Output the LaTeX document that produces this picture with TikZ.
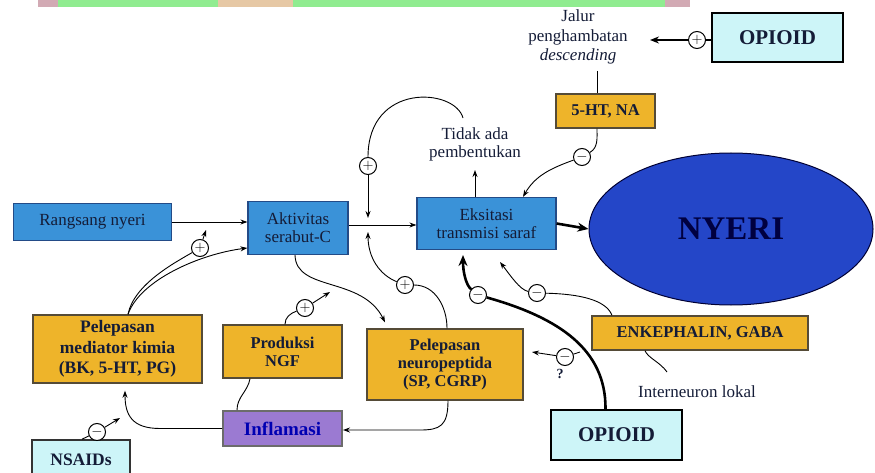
\documentclass[tikz,border=0pt]{standalone}
\usepackage{fontspec}
\setmainfont{Liberation Serif}
\usetikzlibrary{arrows.meta,shapes.geometric}
\definecolor{bluebox}{RGB}{58,146,216}
\definecolor{blueedge}{RGB}{35,75,135}
\definecolor{orangebox}{RGB}{238,180,42}
\definecolor{orangeedge}{RGB}{85,75,55}
\definecolor{cyanbox}{RGB}{205,245,248}
\definecolor{purplebox}{RGB}{155,122,210}
\definecolor{nyeriblue}{RGB}{36,70,200}
\definecolor{wmgreen}{RGB}{144,236,144}
\definecolor{wmbeige}{RGB}{230,200,165}
\definecolor{wmpink}{RGB}{210,170,180}
\definecolor{boxtext}{RGB}{20,28,55}
\tikzset{
  bbox/.style={draw=blueedge,line width=1.2pt,fill=bluebox,text=boxtext,align=center,
    font=\fontsize{17}{18}\selectfont,inner sep=0pt},
  obox/.style={draw=orangeedge,line width=1.4pt,fill=orangebox,text=boxtext,align=center,
    font=\fontsize{16.5}{18}\selectfont\bfseries,inner sep=0pt},
  cbox/.style={draw=black,line width=2pt,fill=cyanbox,text=boxtext,inner sep=0pt,
    font=\fontsize{21}{24}\selectfont\bfseries},
  pm/.style={circle,draw,fill=white,line width=1pt,minimum size=17pt,inner sep=0pt,
    font=\fontsize{15}{15}\selectfont},
  conn/.style={line width=0.9pt,-{Stealth[length=7pt,width=5pt]}},
  plain/.style={line width=0.9pt},
  thickconn/.style={line width=2.6pt,-{Stealth[length=11pt,width=9pt]}},
  lbl/.style={align=center,text=boxtext,font=\fontsize{17}{19.5}\selectfont},
}
\begin{document}
\begin{tikzpicture}[x=1pt,y=-1pt]
\useasboundingbox (0,0) rectangle (875,473);
% watermark strip
\fill[wmpink] (38,0) rectangle (58,7);
\fill[wmgreen] (58,0) rectangle (665,7);
\fill[wmbeige] (218,0) rectangle (293,7);
\fill[wmpink] (665,0) rectangle (690,7);

% nodes
\node[bbox,minimum width=158,minimum height=37] (rang) at (92.5,222) {Rangsang nyeri};
\node[bbox,minimum width=100,minimum height=53] (akt) at (298,228) {Aktivitas\\serabut-C};
\node[bbox,minimum width=139,minimum height=52] (eks) at (486.5,223.5) {Eksitasi\\transmisi saraf};
\node[ellipse,draw=black!80!blue,line width=1pt,fill=nyeriblue,minimum width=284,minimum height=152,
  text=black!75!blue,font=\fontsize{33}{36}\selectfont\bfseries] (nyeri) at (731,229) {NYERI};
\node[cbox,minimum width=131,minimum height=49] (opt) at (777.5,37.5) {OPIOID};
\node[lbl] (jalur) at (578,37) {Jalur\\penghambatan\\\textit{descending}};
\node[obox,minimum width=99,minimum height=34] (ht) at (605.5,111) {5-HT, NA};
\node[lbl,font=\fontsize{17}{18}\selectfont] (tidak) at (475,144) {Tidak ada\\pembentukan};
\node[obox,minimum width=169,minimum height=68,font=\fontsize{17.5}{20.5}\selectfont\bfseries] (med) at (117.5,349) {Pelepasan\\mediator kimia\\(BK, 5-HT, PG)};
\node[obox,minimum width=119,minimum height=53] (ngf) at (282.5,351.5) {Produksi\\NGF};
\node[obox,minimum width=156,minimum height=71] (neu) at (445,364.5) {Pelepasan\\neuropeptida\\(SP, CGRP)};
\node[draw=gray!85!black,line width=2pt,fill=purplebox,minimum width=119,minimum height=35,inner sep=0pt,
  text=blue!70!black,font=\fontsize{19}{22}\selectfont\bfseries] (inf) at (282.5,428.5) {Inflamasi};
\node[draw=black!80,line width=1.6pt,fill=cyanbox,minimum width=98,minimum height=40,inner sep=0pt,
  text=boxtext,font=\fontsize{17.5}{20}\selectfont\bfseries] (nsa) at (81,460) {NSAIDs};
\node[obox,minimum width=216,minimum height=34] (enk) at (700,333) {ENKEPHALIN, GABA};
\node[lbl] (inter) at (697,392) {Interneuron lokal};
\node[cbox,minimum width=131,minimum height=50] (opb) at (616.5,435) {OPIOID};
\node[text=boxtext,font=\fontsize{14}{14}\selectfont\bfseries] (q) at (560,374) {?};

% circles
\node[pm] (c1) at (697,40) {$+$};
\node[pm] (c2) at (582,157) {$-$};
\node[pm] (c3) at (368,166) {$+$};
\node[pm] (c4) at (405,285) {$+$};
\node[pm] (c5) at (200,248) {$+$};
\node[pm] (c6) at (305,308) {$+$};
\node[pm] (c7) at (97,432) {$-$};
\node[pm] (c8) at (478,295) {$-$};
\node[pm] (c9) at (565,357) {$-$};
\node[pm] (c10) at (537,293) {$-$};

% free ends
\coordinate (jtip) at (650,40);
\coordinate (jl) at (597,71);
\coordinate (ls) at (463,118);
\coordinate (a1) at (368,218);
\coordinate (a2) at (368,232);
\coordinate (a3) at (206,230);
\coordinate (a4) at (330,292);
\coordinate (a5) at (120,418);
\coordinate (a6) at (500,262);
\coordinate (a7) at (463,255);
\coordinate (a8) at (532,352);
\coordinate (ib) at (667,372);
\coordinate (ttip) at (475,170);
\coordinate (thb) at (580,352);

% connectors
\draw[line width=1.8pt] (opt.west |- c1) -- (c1);
\draw[line width=1.8pt,-{Stealth[length=9pt,width=7pt]}] (c1) -- (jtip);
\draw[plain] (jl) -- (jl |- ht.north);
\draw[plain] ([shift={(-8.5,0)}]ht.south) to[out=-90,in=30] (c2);
\draw[conn] (c2) to[out=200,in=60] ([shift={(36.5,0)}]eks.north);
\draw[conn] (rang.east) -- (rang.east -| akt.west);
\draw[conn] ([shift={(0,-3)}]akt.east) -- ([shift={(0,-3)}]akt.east -| eks.west);
\draw[conn] (ttip |- eks.north) -- (ttip);
\draw[thickconn] (eks.east) -- (nyeri.west);
% loop over top
\draw[plain] (ls) .. controls (455,88) and (368,82) .. (c3);
\draw[conn] (c3) -- (a1);
% loop from neuropeptida
\draw[plain] (c4) to[out=0,in=90] ([shift={(2,0)}]neu.north);
\draw[conn] (c4) .. controls (380,275) and (368,258) .. (a2);
% aktivitas to neuropeptida
\draw[conn] ([shift={(-3,0)}]akt.south) .. controls (296,292) and (362,276) .. ([shift={(-60,-6)}]neu.north);
% mediator to aktivitas
\draw[plain] ([shift={(10.5,0)}]med.north) .. controls (134,284) and (176,262) .. (c5);
\draw[conn] ([shift={(10.5,0)}]med.north) .. controls (140,280) and (200,254) .. (akt.west |- 0,248);
\draw[conn] (c5) -- (a3);
% NGF
\draw[plain] ([shift={(2.5,0)}]ngf.north) to[out=90,in=200] (c6);
\draw[conn] (c6) -- (a4);
\draw[plain] ([shift={(-45.5,0)}]inf.north) to[out=90,in=-100] ([shift={(-32.5,0)}]ngf.south);
% inflamasi to mediator
\draw[conn] (inf.west) -- (160,428.5) .. controls (132,428.5) and (125,415) .. ([shift={(7.5,7)}]med.south);
% NSAIDs
\draw[plain] (nsa.north -| 82,0) -- (c7);
\draw[conn] (c7) -- (a5);
% neuropeptida to inflamasi
\draw[conn] ([shift={(3,0)}]neu.south) .. controls (448,426) and (440,430) .. (420,430) -- ([shift={(0,1.5)}]inf.east);
% thick opioid
\draw[line width=2.6pt] ([shift={(-11,0)}]opb.north) .. controls (606,350) and (560,318) .. (c8);
\draw[thickconn] (c8) .. controls (466,285) and (463,272) .. (a7);
\draw[plain] (thb) -- (c9);
\draw[conn] (c9) -- (a8);
% enkephalin
\draw[plain] ([shift={(-88,0)}]enk.north) .. controls (606,300) and (580,294) .. (c10);
\draw[conn] (c10) .. controls (520,290) and (510,275) .. (a6);
\draw[plain] (ib) .. controls (660,362) and (648,358) .. ([shift={(-55,0)}]enk.south);
\end{tikzpicture}
\end{document}
